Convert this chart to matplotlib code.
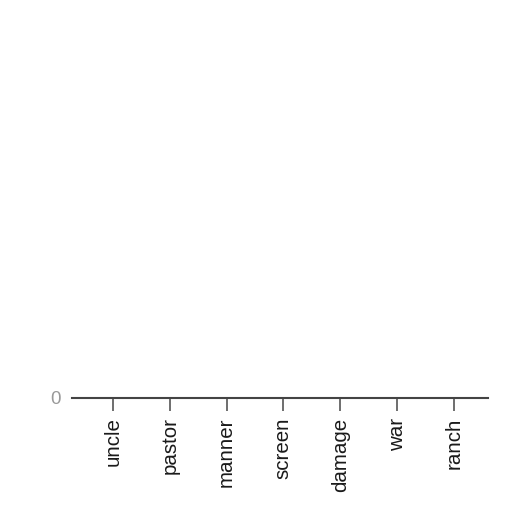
import matplotlib
matplotlib.use("Agg")
import matplotlib.pyplot as plt

categories = ["uncle", "pastor", "manner", "screen", "damage", "war", "ranch"]
values = [0, 0, 0, 0, 0, 0, 0]

plt.rcParams['font.family'] = ['Liberation Sans', 'DejaVu Sans']

fig = plt.figure(figsize=(5.12, 5.12), dpi=100)
ax = fig.add_axes([0.1406, 0.2227, 0.8125, 0.76])
x = list(range(len(categories)))
ax.bar(x, values, width=0.8, color="#4c78a8")
ax.set_xlim(-0.72, 6.6)
ax.set_ylim(0, 1)
ax.set_xticks(x)
ax.set_xticklabels(categories, rotation=90, fontsize=14.8, color="#1a1a1a")
ax.set_yticks([0])
ax.set_yticklabels(["0"], fontsize=13.5, color="#999999")
for s in ["top", "right", "left"]:
    ax.spines[s].set_visible(False)
ax.spines["bottom"].set_color("#444444")
ax.spines["bottom"].set_linewidth(1.5)
ax.tick_params(axis="x", length=9, width=1.2, color="#555555", pad=5)
ax.tick_params(axis="y", length=0, pad=8)
fig.savefig("out.png", dpi=100)
